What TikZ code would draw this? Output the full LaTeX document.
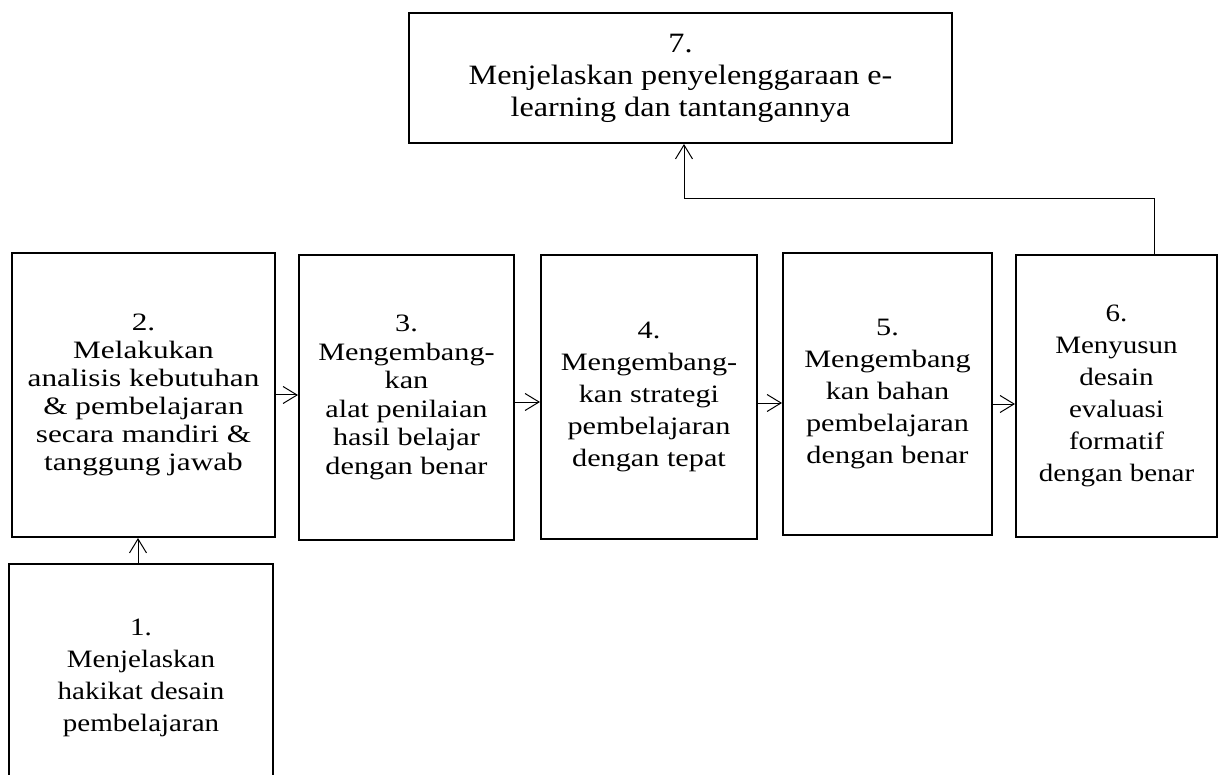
\documentclass[tikz,border=0pt]{standalone}
\usepackage{fontspec}
\setmainfont{Liberation Serif}
\newfontfamily\fontA[FakeStretch=1.16]{Liberation Serif}
\newfontfamily\fontB[FakeStretch=1.21]{Liberation Serif}
\newfontfamily\fontC[FakeStretch=1.25]{Liberation Serif}
\newfontfamily\fontD[FakeStretch=1.15]{Liberation Serif}
\usetikzlibrary{arrows.meta}
\begin{document}
\begin{tikzpicture}[x=1pt,y=-1pt,
  box/.style={draw, line width=2pt, align=center, inner sep=0pt,
    font=\fontB\fontsize{25}{28.5}\selectfont},
  conn/.style={line width=1pt, -{Straight Barb[length=14pt,width=17pt,line width=1pt]}}]
\useasboundingbox (0,0) rectangle (1218,775);
\clip (0,0) rectangle (1218,775);
\fill[white] (0,0) rectangle (1218,775);

\node[box, minimum width=543pt, minimum height=130pt,
  font=\fontD\fontsize{28}{32}\selectfont] (b7) at (680.5,78)
  {7.\\Menjelaskan penyelenggaraan e-\\learning dan tantangannya};
\node[box, minimum width=263pt, minimum height=284pt,
  font=\fontC\fontsize{25}{28}\selectfont] (b2) at (143.5,395)
  {2.\\Melakukan\\analisis kebutuhan\\\& pembelajaran\\secara mandiri \&\\tanggung jawab};
\node[box, minimum width=264pt, minimum height=228pt,
  font=\fontA\fontsize{25}{32}\selectfont] (b1) at (141,678)
  {1.\\Menjelaskan\\hakikat desain\\pembelajaran};
\node[box, minimum width=215pt, minimum height=285pt] (b3) at (406.5,397.5)
  {3.\\Mengembang-\\kan\\alat penilaian\\hasil belajar\\dengan benar};
\node[box, minimum width=216pt, minimum height=284pt,
  font=\fontB\fontsize{25}{32}\selectfont] (b4) at (649,397)
  {4.\\Mengembang-\\kan strategi\\pembelajaran\\dengan tepat};
\node[box, minimum width=209pt, minimum height=282pt,
  font=\fontB\fontsize{25}{32}\selectfont] (b5) at (887.5,394)
  {5.\\Mengembang\\kan bahan\\pembelajaran\\dengan benar};
\node[box, minimum width=201pt, minimum height=282pt,
  font=\fontA\fontsize{25}{32}\selectfont] (b6) at (1116.5,396)
  {6.\\Menyusun\\desain\\evaluasi\\formatif\\dengan benar};

\coordinate (y23) at (0,395);
\coordinate (y34) at (0,402);
\coordinate (y45) at (0,403);
\coordinate (y56) at (0,404);
\coordinate (x12) at (138,0);
\coordinate (s6) at (1154,0);
\coordinate (k) at (684,199);

\draw[conn] (b2.east |- y23) -- (b3.west |- y23);
\draw[conn] (b3.east |- y34) -- (b4.west |- y34);
\draw[conn] (b4.east |- y45) -- (b5.west |- y45);
\draw[conn] (b5.east |- y56) -- (b6.west |- y56);
\draw[conn] (x12 |- b1.north) -- (x12 |- b2.south);
\draw[conn] (s6 |- b6.north) |- (k) -- (k |- b7.south);
\end{tikzpicture}
\end{document}
